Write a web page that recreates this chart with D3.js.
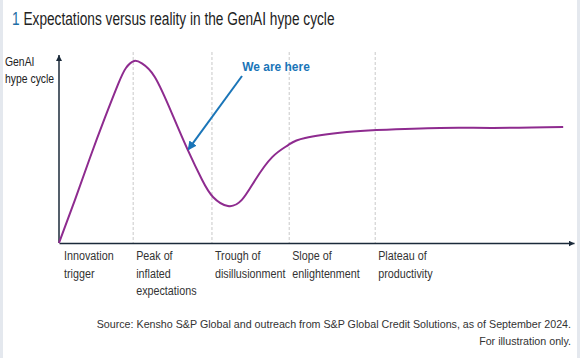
<!DOCTYPE html>
<html><head><meta charset="utf-8">
<script src="https://cdn.jsdelivr.net/npm/d3@7"></script>
<style>
html,body{margin:0;padding:0;background:#fff;}
svg{display:block;}
text{font-family:"Liberation Sans",Arial,sans-serif;}
</style></head>
<body>
<svg id="c" width="580" height="358"></svg>
<script>
// Curve shape (illustrative): x = time (0-100), y = hype (0-100)
const curveX = [0, 3.1, 6.0, 8.9, 11.5, 13.0, 14.6, 16.1, 18.6, 21.9, 25.0, 27.8, 29.9, 32.8, 35.5, 38.1, 41.4, 44.5, 47.8, 55.9, 61.7, 74.0, 84.3, 97.9];
const curveY = [0, 22.9, 45.2, 66.5, 84.6, 93.1, 96.8, 95.5, 88.3, 69.1, 49.5, 33.5, 24.5, 19.7, 22.9, 33.5, 45.7, 52.1, 55.9, 59.0, 60.1, 61.2, 61.2, 61.7];
const phaseStarts = [0, 14.4, 29.7, 44.7, 61.4];
const phaseLabels = [["Innovation","trigger"],["Peak of","inflated","expectations"],["Trough of","disillusionment"],["Slope of","enlightenment"],["Plateau of","productivity"]];
const markerX = 25.0; // "We are here"
const title = "Expectations versus reality in the GenAI hype cycle";
const yLabel = ["GenAI","hype cycle"];
const source = ["Source: Kensho S&P Global and outreach from S&P Global Credit Solutions, as of September 2024.","For illustration only."];

const svg = d3.select("#c");
const x = d3.scaleLinear().domain([0,100]).range([59,574]);
const y = d3.scaleLinear().domain([0,100]).range([243,55]);

function condense(sel, f){
  sel.each(function(){
    const L = this.getComputedTextLength();
    d3.select(this).attr("textLength", L*f).attr("lengthAdjust","spacingAndGlyphs");
  });
}

// side stripes
svg.append("rect").attr("x",0).attr("y",0).attr("width",3).attr("height",358).attr("fill","#e4e8ee");
svg.append("rect").attr("x",577).attr("y",0).attr("width",3).attr("height",358).attr("fill","#e4e8ee");

// title
const tg = svg.append("g").attr("transform","translate(12,25) scale(0.74,1)");
const t = tg.append("text").attr("x",0).attr("y",0).attr("font-size",18.5).attr("fill","#222");
t.append("tspan").attr("fill","#1f6ea6").text("1 ");
t.append("tspan").text(title);

// dashed phase lines
svg.selectAll("line.ph").data(phaseStarts.slice(1)).join("line")
  .attr("x1",d=>x(d)).attr("x2",d=>x(d)).attr("y1",52).attr("y2",243)
  .attr("stroke","#c9c9c9").attr("stroke-width",1).attr("stroke-dasharray","3,2");

// defs arrowheads
const defs = svg.append("defs");
defs.append("marker").attr("id","ax").attr("viewBox","0 0 10 10").attr("refX",10).attr("refY",5)
  .attr("markerWidth",6).attr("markerHeight",6).attr("markerUnits","userSpaceOnUse").attr("orient","auto")
  .append("path").attr("d","M0,0L10,5L0,10z").attr("fill","#1b2a3a");
defs.append("marker").attr("id","bl").attr("viewBox","0 0 10 10").attr("refX",8).attr("refY",5)
  .attr("markerWidth",9).attr("markerHeight",9).attr("markerUnits","userSpaceOnUse").attr("orient","auto")
  .append("path").attr("d","M0,0L10,5L0,10z").attr("fill","#1a75b8");

// axes
const xAxis = svg.append("g").attr("transform",`translate(0,${y(0)})`)
  .call(d3.axisBottom(x).tickValues([]).tickSizeOuter(0));
xAxis.select(".domain").attr("stroke","#1b2a3a").attr("stroke-width",1.5).attr("marker-end","url(#ax)");
const yAxis = svg.append("g").attr("transform",`translate(${x(0)},0)`)
  .call(d3.axisLeft(y).tickValues([]).tickSizeOuter(0));
yAxis.select(".domain").attr("d",`M0,${y(0)}V${y(100)}`).attr("stroke","#1b2a3a").attr("stroke-width",1.5).attr("marker-end","url(#ax)");

// curve
const pts = curveX.map((d,i)=>[d,curveY[i]]);
svg.append("path").datum(pts)
  .attr("d",d3.line().x(d=>x(d[0])).y(d=>y(d[1])).curve(d3.curveNatural))
  .attr("fill","none").attr("stroke","#8e2b8f").attr("stroke-width",2);

// We are here
const mi = curveX.indexOf(markerX);
svg.append("line").attr("x1",242).attr("y1",76).attr("x2",x(markerX)+1).attr("y2",y(curveY[mi])-1)
  .attr("stroke","#1a75b8").attr("stroke-width",2).attr("marker-end","url(#bl)");
svg.append("text").attr("x",276).attr("y",71).attr("text-anchor","middle").attr("font-size",13)
  .attr("font-weight","bold").attr("fill","#1a75b8").text("We are here").call(condense,0.92);

// y label
svg.append("g").selectAll("text").data(yLabel).join("text")
  .attr("x",5).attr("y",(d,i)=>66+i*17).attr("font-size",13).attr("fill","#222").text(d=>d).call(condense,0.8);

// phase labels
phaseStarts.forEach((p,i)=>{
  svg.append("g").selectAll("text").data(phaseLabels[i]).join("text")
    .attr("x", i===0 ? x(p)+5 : x(p)+3).attr("y",(d,j)=>260+j*17.5)
    .attr("font-size",12.5).attr("fill","#333").text(d=>d).call(condense,0.86);
});

// source
svg.append("g").selectAll("text").data(source).join("text")
  .attr("x",571).attr("y",(d,i)=>328+i*17).attr("text-anchor","end")
  .attr("font-size",10.7).attr("fill","#333").text(d=>d);
</script>
</body></html>
